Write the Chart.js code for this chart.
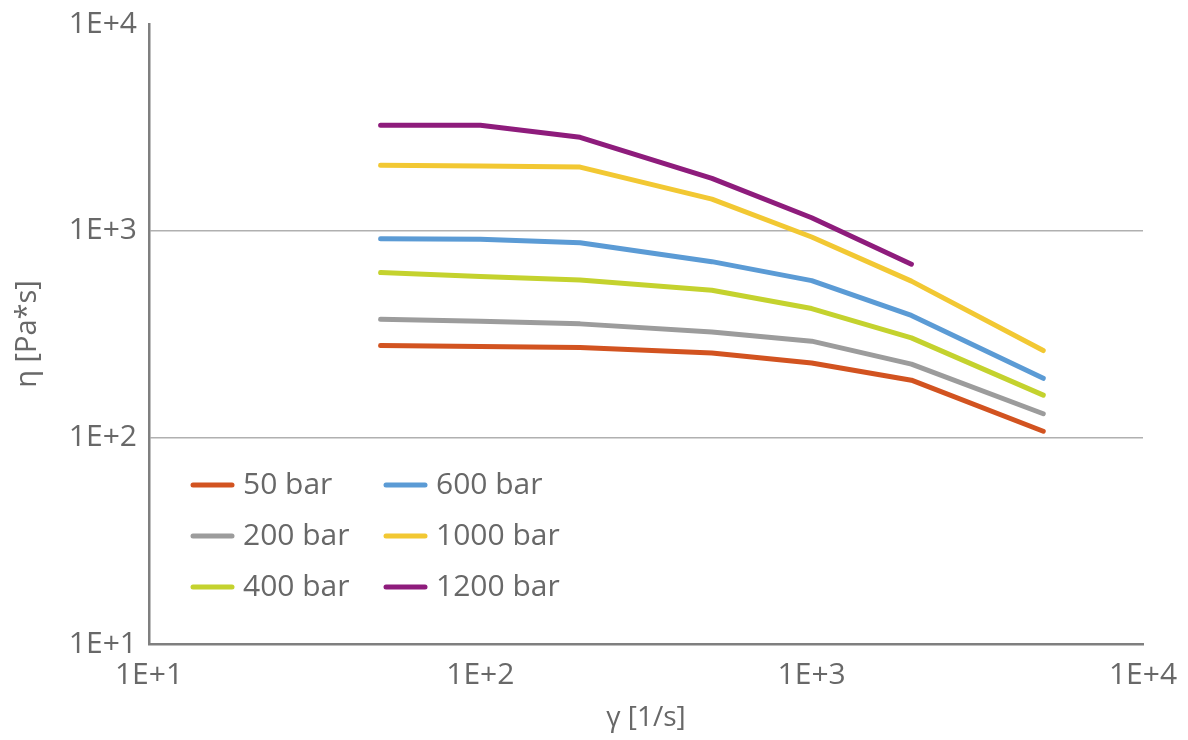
<!DOCTYPE html>
<html>
<head>
<meta charset="utf-8">
<script src="https://cdn.jsdelivr.net/npm/chart.js@4/dist/chart.umd.min.js"></script>
<style>
  html, body { margin: 0; padding: 0; background: #ffffff; }
  #wrap { width: 1188px; height: 740px; position: relative; }
</style>
</head>
<body>
<div id="wrap"><canvas id="c" width="1188" height="740"></canvas></div>
<script>
// ---- data ----
const shearRates = [50, 100, 200, 500, 1000, 2000, 5000];
const seriesLabels = ['50 bar', '200 bar', '400 bar', '600 bar', '1000 bar', '1200 bar'];
const eta50   = [278, 275, 272, 256, 229, 189, 107];
const eta200  = [373, 364, 354, 323, 292, 226, 130];
const eta400  = [627, 600, 577, 515, 420, 303, 160];
const eta600  = [914, 908, 874, 708, 573, 389, 193];
const eta1000 = [2075, 2053, 2031, 1420, 932, 570, 263];
const eta1200 = [3240, 3240, 2831, 1792, 1155, 688, null];
const xTickValues = [10, 100, 1000, 10000];
const yTickValues = [10, 100, 1000, 10000];
const yGridValues = [100, 1000];

// ---- styles ----
const colors = ['#D25320', '#9C9C9C', '#C4D22E', '#5B9BD5', '#F2C833', '#8E1C7C'];
const textColor = '#686868';
const FONT = "'Open Sans', 'Liberation Sans', sans-serif";

const allSeries = [eta50, eta200, eta400, eta600, eta1000, eta1200];
const datasets = allSeries.map((vals, i) => ({
  label: seriesLabels[i],
  data: shearRates.map((x, j) => ({ x: x, y: vals[j] })),
  borderColor: colors[i],
  backgroundColor: colors[i],
  borderWidth: 5,
  borderCapStyle: 'round',
  borderJoinStyle: 'round',
  pointRadius: 0,
  pointHoverRadius: 0,
  tension: 0,
  fill: false,
  spanGaps: false
}));

function fmtExp(v) {
  const e = Math.round(Math.log10(v));
  return '1E+' + e;
}

// custom legend drawn inside the plot area (2 columns, column-major)
const insideLegend = {
  id: 'insideLegend',
  afterDatasetsDraw(chart) {
    const ctx = chart.ctx;
    const ds = chart.data.datasets;
    const colX = [193, 386];
    const rowY = [485, 536, 587];
    const lineLen = 39;
    ctx.save();
    ctx.font = '30px ' + FONT;
    ctx.textBaseline = 'middle';
    ctx.textAlign = 'left';
    ds.forEach((d, i) => {
      const col = Math.floor(i / 3);
      const row = i % 3;
      const x = colX[col], y = rowY[row];
      ctx.strokeStyle = d.borderColor;
      ctx.lineWidth = 5;
      ctx.lineCap = 'round';
      ctx.beginPath();
      ctx.moveTo(x, y);
      ctx.lineTo(x + lineLen, y);
      ctx.stroke();
      ctx.fillStyle = textColor;
      ctx.fillText(d.label, x + lineLen + 11, y);
    });
    ctx.restore();
  }
};

new Chart(document.getElementById('c'), {
  type: 'line',
  data: { datasets: datasets },
  options: {
    responsive: false,
    animation: false,
    devicePixelRatio: 1,
    layout: { padding: { top: 24, right: 45, bottom: 0, left: 0 } },
    plugins: {
      legend: { display: false },
      tooltip: { enabled: false }
    },
    scales: {
      x: {
        type: 'logarithmic',
        min: 10,
        max: 10000,
        afterFit: (s) => { s.height = 96; },
        afterBuildTicks: (s) => { s.ticks = xTickValues.map(v => ({ value: v })); },
        border: { display: true, color: '#7f7f7f', width: 2.5 },
        grid: { display: false, drawTicks: false },
        ticks: {
          autoSkip: false,
          maxRotation: 0,
          padding: 10,
          color: textColor,
          font: { family: FONT, size: 30, lineHeight: 1.4 },
          callback: (v) => fmtExp(v)
        },
        title: {
          display: true,
          text: 'γ [1/s]',
          color: textColor,
          font: { family: FONT, size: 28 },
          padding: { top: 5, bottom: 5 }
        }
      },
      y: {
        type: 'logarithmic',
        min: 10,
        max: 10000,
        afterFit: (s) => { s.width = 149; },
        afterBuildTicks: (s) => { s.ticks = yTickValues.map(v => ({ value: v })); },
        border: { display: true, color: '#7f7f7f', width: 2.5 },
        grid: {
          drawTicks: false,
          color: (c) => (c.tick && yGridValues.includes(c.tick.value)) ? '#b0b0b0' : 'rgba(0,0,0,0)',
          lineWidth: 1.5
        },
        ticks: {
          autoSkip: false,
          padding: 12,
          color: textColor,
          font: { family: FONT, size: 30, lineHeight: 0.7 },
          callback: (v) => fmtExp(v)
        },
        title: {
          display: true,
          text: 'η [Pa*s]',
          color: textColor,
          font: { family: FONT, size: 29 },
          padding: { top: 10, bottom: 5 }
        }
      }
    }
  },
  plugins: [insideLegend]
});
</script>
</body>
</html>
